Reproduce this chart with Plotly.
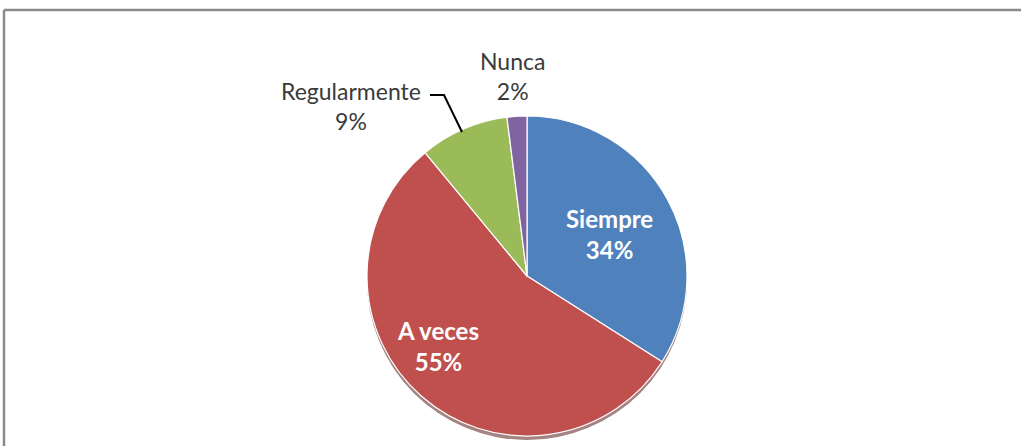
import plotly.graph_objects as go

labels = ["Siempre", "A veces", "Regularmente", "Nunca"]
values = [34, 55, 9, 2]
colors = ["#4F81BD", "#C0504D", "#9BBB59", "#8064A2"]

W, H = 1021, 446
cx, cy, r = 527, 276, 160

def px(x):
    return x / W

def py(y):
    return 1 - y / H

fig = go.Figure()

# soft shadow under the pie
fig.add_trace(go.Pie(
    values=[1], labels=["shadow"], sort=False, textinfo="none", hoverinfo="skip",
    marker=dict(colors=["rgba(90,30,30,0.55)"], line=dict(width=0)),
    domain=dict(x=[px(cx - r), px(cx + r)], y=[py(cy + r + 4), py(cy - r + 4)]),
    showlegend=False,
))

fig.add_trace(go.Pie(
    labels=labels, values=values, sort=False, direction="clockwise", rotation=0,
    textinfo="none", hoverinfo="label+percent",
    marker=dict(colors=colors, line=dict(color="white", width=1.2)),
    domain=dict(x=[px(cx - r), px(cx + r)], y=[py(cy + r), py(cy - r)]),
    showlegend=False,
))

total = sum(values)
pct = [f"{round(v * 100 / total)}%" for v in values]

# label placements (pixel centres)
pos = {
    "Siempre": (609, 234, True),
    "A veces": (438, 346, True),
    "Regularmente": (351, 106, False),
    "Nunca": (512, 76, False),
}
for lab, p in zip(labels, pct):
    x, y, inside = pos[lab]
    if inside:
        txt = f"<b>{lab}<br>{p}</b>"
        font = dict(family="Lato, Open Sans, sans-serif", size=24, color="white")
    else:
        txt = f"{lab}<br>{p}"
        font = dict(family="Lato, Open Sans, sans-serif", size=23, color="#3a3a3a")
    fig.add_annotation(x=px(x), y=py(y), xref="paper", yref="paper", text=txt,
                       showarrow=False, font=font, align="center",
                       xanchor="center", yanchor="middle")

# leader line for Regularmente
fig.add_shape(type="path", xref="paper", yref="paper",
              path=f"M {px(430)},{py(95)} L {px(444)},{py(95)} L {px(462)},{py(132)}",
              line=dict(color="black", width=2))

# chart frame (top and left edges visible)
fig.add_shape(type="line", xref="paper", yref="paper", x0=px(4), y0=py(10), x1=1, y1=py(10),
              line=dict(color="#8a8a8a", width=2.5))
fig.add_shape(type="line", xref="paper", yref="paper", x0=px(4), y0=py(10), x1=px(4), y1=0,
              line=dict(color="#8a8a8a", width=2.5))

fig.update_layout(
    width=W, height=H, margin=dict(l=0, r=0, t=0, b=0),
    paper_bgcolor="white", plot_bgcolor="white", showlegend=False,
)

fig.write_html("out.html", config={"displayModeBar": False},
               post_script="document.body.style.margin='0';document.body.style.overflow='hidden';")
